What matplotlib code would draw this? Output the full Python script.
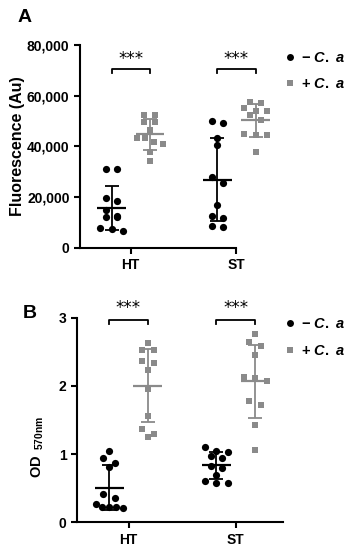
import matplotlib
matplotlib.use("Agg")
import matplotlib.pyplot as plt
import numpy as np

plt.rcParams['font.family'] = ['Liberation Sans', 'DejaVu Sans']
plt.rcParams['font.weight'] = 'bold'
plt.rcParams['mathtext.fontset'] = 'custom'
plt.rcParams['mathtext.rm'] = 'Liberation Sans:bold'
plt.rcParams['mathtext.bf'] = 'Liberation Sans:bold'
plt.rcParams['mathtext.it'] = 'Liberation Sans:bold:italic'
plt.rcParams['mathtext.bfit'] = 'Liberation Sans:bold:italic'

# Dados
grupos = ["HT", "ST"]
rotulos = [r'$\mathbf{-}\ \mathit{C.\ a}$', r'$\mathbf{+}\ \mathit{C.\ a}$']

# Painel A - fluorescência (Au)
fluo_ht_neg = [31100, 31100, 19700, 18500, 14900, 12600, 12200, 12000, 7700, 7400, 6600]
fluo_ht_pos = [52400, 52400, 49600, 49600, 46400, 43200, 43200, 41800, 40900, 37900, 34200]
fluo_st_neg = [50000, 49100, 43200, 40500, 28000, 25700, 16900, 12500, 11800, 8600, 8300]
fluo_st_pos = [57600, 57000, 55000, 54100, 54100, 52400, 50500, 44900, 44500, 44500, 37900]

# Painel B - OD 570nm
od_ht_neg = [1.05, 0.95, 0.87, 0.81, 0.41, 0.35, 0.27, 0.23, 0.23, 0.22, 0.21]
od_ht_pos = [2.63, 2.52, 2.52, 2.37, 2.34, 2.24, 1.96, 1.56, 1.37, 1.30, 1.25]
od_st_neg = [1.11, 1.04, 1.03, 0.97, 0.95, 0.80, 0.82, 0.70, 0.60, 0.58, 0.57]
od_st_pos = [2.76, 2.65, 2.59, 2.46, 2.13, 2.11, 2.07, 1.78, 1.72, 1.42, 1.06]

preto = "#000000"
cinza = "#8a8a8a"
W, H = 355, 550


def espalhar(offs, grupo, step):
    n = len(grupo)
    if n > 1:
        step = min(step, 0.25 / (n - 1))
    for k, j in enumerate(grupo):
        offs[j] = (k - (n - 1) / 2) * step


def swarm(vals, thresh, step):
    vals = np.asarray(vals, dtype=float)
    order = np.argsort(-vals)
    offs = np.zeros(len(vals))
    grupo = []
    inicio = None
    for i in order:
        if inicio is None or inicio - vals[i] > thresh:
            if grupo:
                espalhar(offs, grupo, step)
            grupo = [i]
            inicio = vals[i]
        else:
            grupo.append(i)
    espalhar(offs, grupo, step)
    return offs


def painel(ax, series, thresh, ylim, yticks, fmt, bracket_y, leg, star_y):
    dx = 0.18
    for gi, (neg, pos) in enumerate(series):
        xc = gi + 1
        for vals, cor, mk, off in [(neg, preto, 'o', -dx), (pos, cinza, 's', dx)]:
            x0 = xc + off
            xs = x0 + swarm(vals, thresh, 0.108)
            ax.plot(xs, vals, mk, color=cor, markersize=5.2 if mk == 'o' else 4.8,
                    markeredgewidth=0, linestyle='none', clip_on=False, zorder=3)
            m = np.mean(vals)
            sd = np.std(vals, ddof=1)
            ax.hlines(m, x0 - 0.135, x0 + 0.135, color=cor, linewidth=1.6, zorder=4)
            ax.errorbar(x0, m, yerr=sd, fmt='none', ecolor=cor, elinewidth=1.3,
                        capsize=5, capthick=1.3, zorder=4)
        # colchete de significância
        y0, y1 = bracket_y
        ax.plot([xc - dx, xc - dx, xc + dx, xc + dx], [y1, y0, y0, y1], color=preto,
                linewidth=1.3, clip_on=False)
        ax.text(xc, star_y, "***", ha='center', va='center', fontsize=12,
                fontweight='normal', family='DejaVu Sans', clip_on=False)
    ax.set_xlim(0.52, 2.44)
    ax.set_ylim(*ylim)
    ax.set_yticks(yticks)
    ax.set_yticklabels([fmt(v) for v in yticks])
    ax.set_xticks([1, 2])
    ax.set_xticklabels(grupos, fontsize=11.5, fontweight='bold')
    ax.spines['top'].set_visible(False)
    ax.spines['right'].set_visible(False)
    for s in ['left', 'bottom']:
        ax.spines[s].set_linewidth(1.5)
    ax.tick_params(width=1.5, length=4, labelsize=10)
    h1 = ax.plot([], [], 'o', color=preto, markersize=5, markeredgewidth=0)[0]
    h2 = ax.plot([], [], 's', color=cinza, markersize=5, markeredgewidth=0)[0]
    ax.legend([h1, h2], rotulos, loc='upper left', bbox_to_anchor=leg, frameon=False,
              fontsize=10.5, handlelength=0.5, handletextpad=0.5, labelspacing=0.85,
              borderaxespad=0)


fig = plt.figure(figsize=(W / 100, H / 100), dpi=100)

# Painel A
axA = fig.add_axes([80 / W, 1 - 247.7 / H, 203 / W, 202.7 / H])
painel(axA, [(fluo_ht_neg, fluo_ht_pos), (fluo_st_neg, fluo_st_pos)], 2400,
       (0, 80000), [0, 20000, 40000, 60000, 80000], lambda v: f"{v:,}",
       (70500, 68800), (0.99, 1.0), 74600)
axA.spines['bottom'].set_bounds(0.52, 2)
axA.set_ylabel("Fluorescence (Au)", fontsize=11.5, fontweight='bold')
axA.yaxis.set_label_coords(-0.27, 0.5)

# Painel B
axB = fig.add_axes([77 / W, 1 - 522.3 / H, 206 / W, 204.6 / H])
painel(axB, [(od_ht_neg, od_ht_pos), (od_st_neg, od_st_pos)], 0.088,
       (0, 3), [0, 1, 2, 3], lambda v: f"{v}",
       (2.97, 2.91), (0.99, 1.03), 3.14)
axB.set_ylabel(r'$\mathrm{OD}_{\ \ \mathrm{570nm}}$', fontsize=10.5)
axB.yaxis.set_label_coords(-0.15, 0.37)

fig.text(25 / W, 1 - 17 / H, "A", fontsize=14, fontweight='bold', ha='center', va='center')
fig.text(30 / W, 1 - 313 / H, "B", fontsize=14, fontweight='bold', ha='center', va='center')

plt.savefig("out.png", dpi=100)
